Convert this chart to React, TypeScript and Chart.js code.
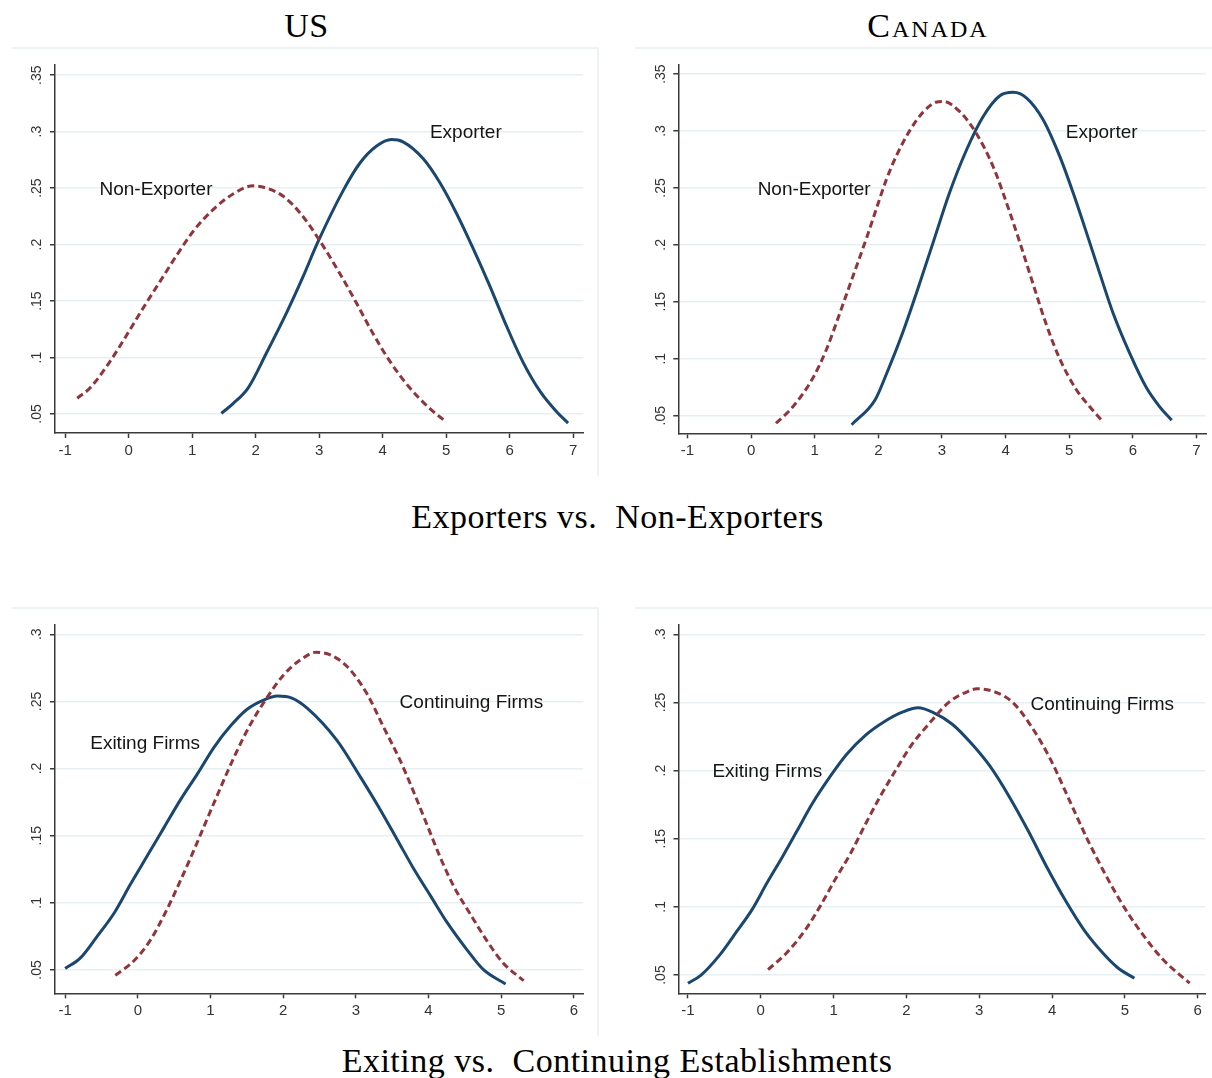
import React, { useEffect, useRef } from 'react';
import { Chart, registerables } from 'chart.js';

Chart.register(...registerables);

// ---------- data ----------
const xTicksTop = [-1, 0, 1, 2, 3, 4, 5, 6, 7];
const xTicksBottom = [-1, 0, 1, 2, 3, 4, 5, 6];
const yTicksTop = [0.05, 0.1, 0.15, 0.2, 0.25, 0.3, 0.35];
const yTickLabelsTop = ['.05', '.1', '.15', '.2', '.25', '.3', '.35'];
const yTicksBottom = [0.05, 0.1, 0.15, 0.2, 0.25, 0.3];
const yTickLabelsBottom = ['.05', '.1', '.15', '.2', '.25', '.3'];

// US: exporters vs non-exporters
const usNonExpX = [-0.81, -0.61, -0.3, -0.03, 0.23, 0.49, 0.75, 1.02, 1.33, 1.65, 1.96, 2.17, 2.43, 2.7, 2.98, 3.33, 3.59, 3.85, 4.11, 4.43, 4.74, 5.0];
const usNonExpY = [0.064, 0.073, 0.096, 0.12, 0.144, 0.167, 0.19, 0.212, 0.231, 0.245, 0.252, 0.25, 0.243, 0.228, 0.206, 0.174, 0.148, 0.121, 0.097, 0.073, 0.055, 0.043];
const usExpX = [1.46, 1.64, 1.88, 2.17, 2.49, 2.75, 2.97, 3.38, 3.64, 3.9, 4.14, 4.32, 4.64, 4.9, 5.16, 5.43, 5.69, 5.95, 6.21, 6.48, 6.74, 6.92];
const usExpY = [0.0506, 0.059, 0.073, 0.104, 0.14, 0.172, 0.201, 0.248, 0.272, 0.287, 0.293, 0.291, 0.276, 0.255, 0.228, 0.196, 0.163, 0.128, 0.096, 0.07, 0.052, 0.042];

// Canada: exporters vs non-exporters
const caNonExpX = [0.39, 0.66, 0.98, 1.19, 1.4, 1.61, 1.82, 1.97, 2.13, 2.29, 2.5, 2.71, 2.92, 3.02, 3.28, 3.55, 3.81, 4.02, 4.23, 4.43, 4.64, 4.85, 5.11, 5.32, 5.54];
const caNonExpY = [0.0433, 0.058, 0.084, 0.109, 0.141, 0.174, 0.207, 0.232, 0.258, 0.279, 0.301, 0.317, 0.3255, 0.326, 0.317, 0.297, 0.268, 0.236, 0.201, 0.166, 0.13, 0.1, 0.073, 0.058, 0.044];
const caExpX = [1.58, 1.95, 2.13, 2.37, 2.6, 2.86, 3.12, 3.39, 3.65, 3.91, 4.12, 4.33, 4.59, 4.85, 5.06, 5.27, 5.48, 5.69, 5.95, 6.21, 6.42, 6.61];
const caExpY = [0.042, 0.064, 0.087, 0.121, 0.158, 0.202, 0.246, 0.284, 0.313, 0.331, 0.334, 0.329, 0.31, 0.278, 0.246, 0.211, 0.175, 0.14, 0.105, 0.075, 0.058, 0.046];

// US: exiting vs continuing
const usExitX = [-1.0, -0.79, -0.56, -0.33, -0.1, 0.13, 0.36, 0.59, 0.82, 1.05, 1.28, 1.5, 1.73, 1.92, 2.12, 2.33, 2.74, 3.06, 3.34, 3.57, 3.8, 4.03, 4.26, 4.53, 4.76, 5.06];
const usExitY = [0.051, 0.059, 0.075, 0.092, 0.114, 0.135, 0.156, 0.177, 0.196, 0.216, 0.232, 0.244, 0.251, 0.254, 0.2525, 0.245, 0.221, 0.194, 0.169, 0.147, 0.125, 0.105, 0.085, 0.065, 0.05, 0.0396];
const usContX = [-0.31, -0.05, 0.17, 0.4, 0.59, 0.77, 0.95, 1.14, 1.32, 1.55, 1.78, 2.01, 2.24, 2.45, 2.65, 2.88, 3.15, 3.38, 3.61, 3.8, 3.98, 4.16, 4.35, 4.57, 4.8, 5.03, 5.31];
const usContY = [0.046, 0.057, 0.072, 0.095, 0.117, 0.139, 0.162, 0.186, 0.208, 0.233, 0.253, 0.27, 0.281, 0.2866, 0.2846, 0.276, 0.256, 0.231, 0.206, 0.182, 0.158, 0.134, 0.112, 0.092, 0.072, 0.055, 0.042];

// Canada: exiting vs continuing
const caExitX = [-1.0, -0.82, -0.56, -0.33, -0.12, 0.09, 0.3, 0.5, 0.71, 0.97, 1.18, 1.44, 1.7, 1.95, 2.16, 2.37, 2.63, 2.89, 3.15, 3.41, 3.67, 3.92, 4.18, 4.44, 4.7, 4.91, 5.13];
const caExitY = [0.044, 0.05, 0.065, 0.082, 0.098, 0.118, 0.137, 0.156, 0.176, 0.197, 0.212, 0.226, 0.236, 0.243, 0.246, 0.2425, 0.234, 0.22, 0.203, 0.181, 0.156, 0.13, 0.105, 0.083, 0.066, 0.055, 0.0476];
const caContX = [0.1, 0.35, 0.61, 0.81, 1.02, 1.23, 1.44, 1.64, 1.85, 2.06, 2.32, 2.58, 2.84, 2.97, 3.2, 3.46, 3.72, 3.98, 4.24, 4.49, 4.75, 5.01, 5.27, 5.53, 5.89];
const caContY = [0.054, 0.066, 0.083, 0.1, 0.12, 0.139, 0.161, 0.181, 0.2, 0.218, 0.235, 0.25, 0.258, 0.26, 0.258, 0.25, 0.232, 0.208, 0.178, 0.149, 0.122, 0.098, 0.078, 0.061, 0.044];

// text labels placed in data coordinates
const usExpLabels = [
  { text: 'Non-Exporter', x: 0.43, y: 0.25 },
  { text: 'Exporter', x: 5.31, y: 0.3 },
];
const caExpLabels = [
  { text: 'Non-Exporter', x: 0.99, y: 0.25 },
  { text: 'Exporter', x: 5.51, y: 0.3 },
];
const usExitLabels = [
  { text: 'Exiting Firms', x: 0.1, y: 0.2194 },
  { text: 'Continuing Firms', x: 4.59, y: 0.25 },
];
const caExitLabels = [
  { text: 'Exiting Firms', x: 0.09, y: 0.2 },
  { text: 'Continuing Firms', x: 4.69, y: 0.2497 },
];

// ---------- styling ----------
const NAVY = '#1a476f';
const MAROON = '#90353b';
const AXIS = '#3a3a3a';
const GRID = '#e6eff1';
const FRAME = '#edf2f5';
const SANS = "'Liberation Sans', Arial, sans-serif";
const SERIF = "'Liberation Serif', 'Times New Roman', serif";

const zip = (xs: number[], ys: number[]) => xs.map((x, i) => ({ x, y: ys[i] }));

type PanelProps = {
  left: number; top: number; w: number; h: number;
  yW: number; xH: number; padTop: number; padRight: number;
  xMin: number; xMax: number; yMin: number; yMax: number;
  xTicks: number[]; yTicks: number[]; yLabels: string[];
  dashX: number[]; dashY: number[]; solidX: number[]; solidY: number[];
  labels: { text: string; x: number; y: number }[];
};

function Panel(p: PanelProps) {
  const ref = useRef<HTMLCanvasElement>(null);
  useEffect(() => {
    const textPlugin = {
      id: 'panelText',
      afterDraw(chart: any) {
        const ctx = chart.ctx;
        const xs = chart.scales.x;
        const ys = chart.scales.y;
        ctx.save();
        // y tick labels, rotated
        ctx.font = `14px ${SANS}`;
        ctx.fillStyle = '#333';
        ctx.textAlign = 'center';
        ctx.textBaseline = 'middle';
        p.yTicks.forEach((v, i) => {
          const py = ys.getPixelForValue(v);
          ctx.save();
          ctx.translate(chart.chartArea.left - 17.5, py);
          ctx.rotate(-Math.PI / 2);
          ctx.fillText(p.yLabels[i], 0, 0);
          ctx.restore();
        });
        // curve labels
        ctx.font = `19px ${SANS}`;
        ctx.fillStyle = '#151515';
        ctx.textAlign = 'center';
        ctx.textBaseline = 'alphabetic';
        p.labels.forEach((l) => {
          const px = xs.getPixelForValue(l.x);
          const py = ys.getPixelForValue(l.y);
          ctx.fillText(l.text, px, py + 0.36 * 19);
        });
        ctx.restore();
      },
    };
    const chart = new Chart(ref.current as HTMLCanvasElement, {
      type: 'scatter',
      data: {
        datasets: [
          {
            data: zip(p.dashX, p.dashY),
            showLine: true,
            borderColor: MAROON,
            borderWidth: 3,
            borderDash: [7, 4],
            pointRadius: 0,
            cubicInterpolationMode: 'monotone',
            fill: false,
          },
          {
            data: zip(p.solidX, p.solidY),
            showLine: true,
            borderColor: NAVY,
            borderWidth: 3,
            pointRadius: 0,
            cubicInterpolationMode: 'monotone',
            fill: false,
          },
        ],
      },
      options: {
        animation: false,
        responsive: false,
        maintainAspectRatio: false,
        events: [],
        layout: { padding: { left: 0, top: p.padTop, right: p.padRight, bottom: 0 } },
        plugins: { legend: { display: false }, tooltip: { enabled: false } },
        scales: {
          x: {
            type: 'linear',
            min: p.xMin,
            max: p.xMax,
            afterBuildTicks: (s: any) => { s.ticks = p.xTicks.map((v) => ({ value: v })); },
            afterFit: (s: any) => { s.height = p.xH; },
            grid: { drawOnChartArea: false, drawTicks: true, tickLength: 5, tickColor: AXIS, tickWidth: 1.5 },
            border: { display: true, color: AXIS, width: 1.5 },
            ticks: {
              color: '#333',
              font: { family: SANS, size: 15 },
              padding: 4,
              maxRotation: 0,
              autoSkip: false,
              callback: (v: any) => String(v),
            },
          },
          y: {
            type: 'linear',
            min: p.yMin,
            max: p.yMax,
            afterBuildTicks: (s: any) => { s.ticks = p.yTicks.map((v) => ({ value: v })); },
            afterFit: (s: any) => { s.width = p.yW; },
            grid: { color: GRID, lineWidth: 1.5, drawTicks: true, tickLength: 5, tickColor: AXIS, tickWidth: 1.5 },
            border: { display: true, color: AXIS, width: 1.5 },
            ticks: { display: false },
          },
        },
      } as any,
      plugins: [textPlugin],
    });
    return () => chart.destroy();
  }, []);
  return (
    <canvas
      ref={ref}
      width={p.w}
      height={p.h}
      style={{ position: 'absolute', left: p.left, top: p.top, width: p.w, height: p.h }}
    />
  );
}

const titleStyle: React.CSSProperties = {
  position: 'absolute',
  fontFamily: SERIF,
  fontSize: 34,
  lineHeight: '34px',
  letterSpacing: '0.5px',
  color: '#000',
  whiteSpace: 'nowrap',
  transform: 'translateX(-50%)',
};

function Frame({ left, top, width, height, right }: { left: number; top: number; width: number; height: number; right: boolean }) {
  return (
    <div
      style={{
        position: 'absolute',
        left,
        top,
        width,
        height,
        borderTop: `2px solid ${FRAME}`,
        borderRight: right ? `2px solid ${FRAME}` : 'none',
        boxSizing: 'border-box',
      }}
    />
  );
}

export default function App() {
  return (
    <div style={{ position: 'absolute', left: 0, top: 0, width: 1212, height: 1078, background: '#fff', overflow: 'hidden' }}>
      <Frame left={12} top={47} width={587} height={429} right={true} />
      <Frame left={635} top={47} width={577} height={429} right={false} />
      <Frame left={12} top={607} width={587} height={429} right={true} />
      <Frame left={635} top={607} width={577} height={429} right={false} />

      <div style={{ ...titleStyle, left: 306.5, top: 8.5 }}>US</div>
      <div style={{ ...titleStyle, left: 928, top: 8.5, fontVariant: 'small-caps', letterSpacing: '2px' }}>Canada</div>

      <Panel
        left={12} top={49} w={586} h={426} yW={43} xH={42} padTop={16} padRight={14.7}
        xMin={-1.16} xMax={7.16} yMin={0.0332} yMax={0.359}
        xTicks={xTicksTop} yTicks={yTicksTop} yLabels={yTickLabelsTop}
        dashX={usNonExpX} dashY={usNonExpY} solidX={usExpX} solidY={usExpY}
        labels={usExpLabels}
      />
      <Panel
        left={635} top={49} w={577} h={426} yW={43.3} xH={41.7} padTop={16} padRight={6}
        xMin={-1.145} xMax={7.15} yMin={0.0345} yMax={0.358}
        xTicks={xTicksTop} yTicks={yTicksTop} yLabels={yTickLabelsTop}
        dashX={caNonExpX} dashY={caNonExpY} solidX={caExpX} solidY={caExpY}
        labels={caExpLabels}
      />

      <div style={{ ...titleStyle, left: 617.5, top: 499.5 }}>Exporters vs.&nbsp; Non-Exporters</div>

      <Panel
        left={12} top={609} w={586} h={426} yW={43} xH={41.7} padTop={16} padRight={14.7}
        xMin={-1.14} xMax={6.13} yMin={0.0326} yMax={0.3069}
        xTicks={xTicksBottom} yTicks={yTicksBottom} yLabels={yTickLabelsBottom}
        dashX={usContX} dashY={usContY} solidX={usExitX} solidY={usExitY}
        labels={usExitLabels}
      />
      <Panel
        left={635} top={609} w={577} h={426} yW={43.5} xH={41.7} padTop={16} padRight={7}
        xMin={-1.13} xMax={6.1} yMin={0.0366} yMax={0.3068}
        xTicks={xTicksBottom} yTicks={yTicksBottom} yLabels={yTickLabelsBottom}
        dashX={caContX} dashY={caContY} solidX={caExitX} solidY={caExitY}
        labels={caExitLabels}
      />

      <div style={{ ...titleStyle, left: 617, top: 1044 }}>Exiting vs.&nbsp; Continuing Establishments</div>
    </div>
  );
}
